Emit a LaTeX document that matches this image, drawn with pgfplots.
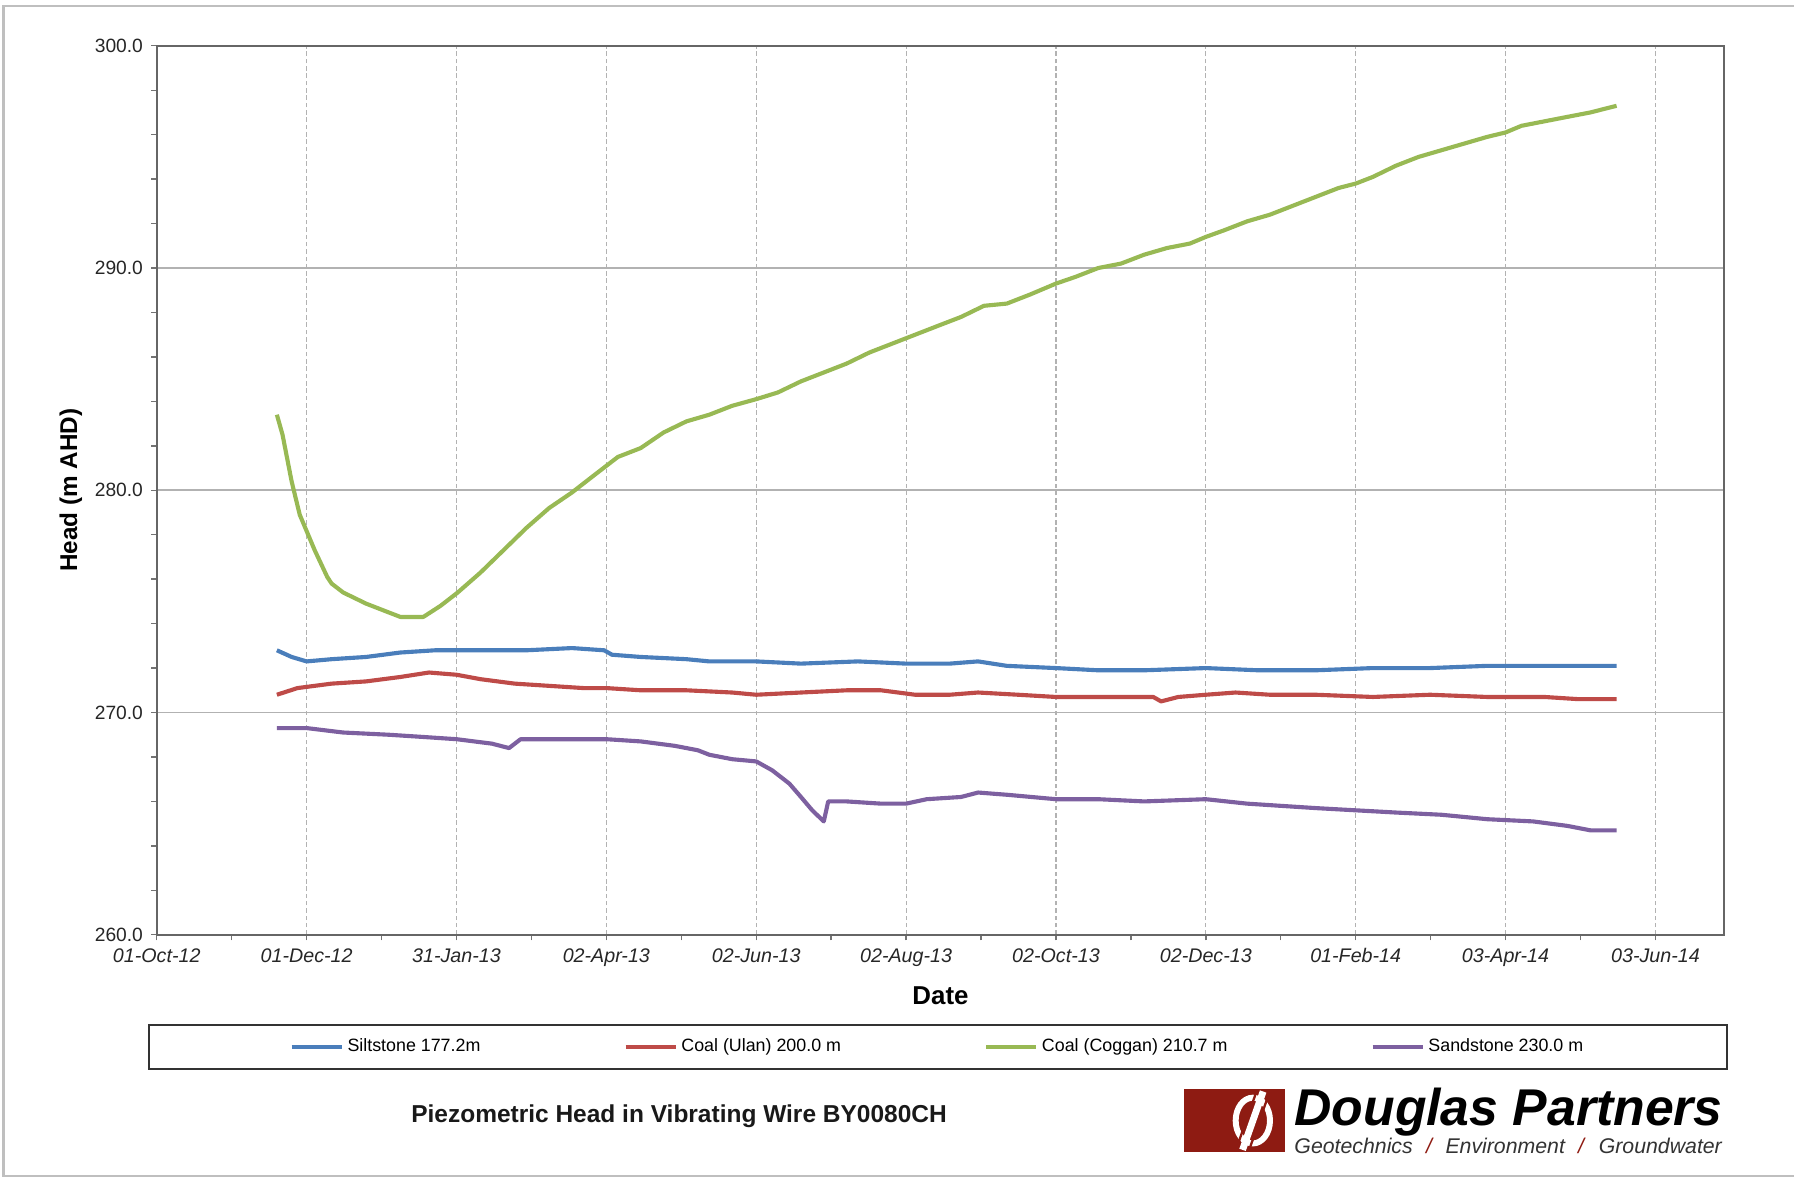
\documentclass[border=0pt]{standalone}
\usepackage{fontspec}
\setmainfont{Liberation Sans}
\usepackage{pgfplots}
\pgfplotsset{compat=1.18}
\definecolor{cBlue}{HTML}{4A7EBB}
\definecolor{cRed}{HTML}{BE4B48}
\definecolor{cGreen}{HTML}{98B954}
\definecolor{cPurple}{HTML}{7D60A0}
\definecolor{dpRed}{HTML}{8E1B12}
\begin{document}
\begin{tikzpicture}
\path[use as bounding box] (-68.5pt,-106.5pt) rectangle (715.5pt,408.5pt);
\draw[black!25, line width=1pt] (715.5pt,406pt) -- (-67pt,406pt) -- (-67pt,-105.5pt) -- (715.5pt,-105.5pt);
\begin{axis}[
  scale only axis, width=685pt, height=388.5pt,
  xmin=0, xmax=638, ymin=260, ymax=300,
  xtick={0,61,122,183,244,305,366,427,488,549,610},
  xticklabels={01-Oct-12,01-Dec-12,31-Jan-13,02-Apr-13,02-Jun-13,02-Aug-13,02-Oct-13,02-Dec-13,01-Feb-14,03-Apr-14,03-Jun-14},
  minor x tick num=1,
  ytick={260,270,280,290,300},
  yticklabels={260.0,270.0,280.0,290.0,300.0},
  minor y tick num=4,
  tick align=outside, tick pos=left,
  major tick length=2.5pt, minor tick length=2.5pt,
  every tick/.style={black!55, line width=0.6pt},
  axis line style={black!60, line width=0.9pt},
  xmajorgrids, ymajorgrids,
  x grid style={black!30, dash pattern=on 2pt off 1.2pt, line width=0.5pt},
  y grid style={black!30, line width=0.8pt},
  xticklabel style={font=\fontsize{8.6}{10}\selectfont\itshape, text=black!85},
  yticklabel style={font=\fontsize{8.4}{10}\selectfont, text=black!85},
  xlabel={Date}, ylabel={Head (m AHD)},
  every axis x label/.style={at={(axis description cs:0.5,0)}, yshift=-26.5pt, anchor=center, font=\fontsize{11.3}{13}\selectfont\bfseries},
  every axis y label/.style={at={(axis description cs:0,0.5)}, xshift=-37.5pt, rotate=90, anchor=center, font=\fontsize{10.6}{13}\selectfont\bfseries},
  legend columns=4,
  legend style={at={(axis description cs:0.4985,-0.1261)}, anchor=center, draw=black!80, line width=0.9pt,
    inner xsep=61.5pt, inner ysep=5pt,
    font=\fontsize{7.8}{9}\selectfont,
    nodes={inner xsep=1.5pt, inner ysep=1pt},
    /tikz/every even column/.append style={column sep=61pt}},
  legend image code/.code={\draw[#1, line width=1.8pt] (0pt,0pt) -- (22pt,0pt);},
  every axis plot/.append style={line width=1.8pt, line join=round},
]
\addplot[cBlue] coordinates {
(48.9,272.8) (54.9,272.5) (61.0,272.3) (71.2,272.4) (85.2,272.5) (99.2,272.7)
(113.2,272.8) (122.0,272.8) (136.4,272.8) (150.4,272.8) (169.0,272.9) (182.1,272.8)
(185.3,272.6) (197.0,272.5) (215.6,272.4) (224.9,272.3) (244.0,272.3) (262.2,272.2)
(285.4,272.3) (305.0,272.2) (322.7,272.2) (334.3,272.3) (346.0,272.1) (366.0,272.0)
(383.2,271.9) (401.9,271.9) (427.0,272.0) (448.4,271.9) (471.7,271.9) (495.0,272.0)
(518.3,272.0) (541.5,272.1) (564.8,272.1) (594.2,272.1)};
\addlegendentry{Siltstone 177.2m}
\addplot[cRed] coordinates {
(48.9,270.8) (57.3,271.1) (71.2,271.3) (85.2,271.4) (99.2,271.6) (110.8,271.8)
(122.0,271.7) (131.8,271.5) (145.7,271.3) (159.7,271.2) (173.7,271.1) (183.0,271.1)
(197.0,271.0) (215.6,271.0) (234.2,270.9) (244.0,270.8) (262.2,270.9) (280.8,271.0)
(294.8,271.0) (308.7,270.8) (322.7,270.8) (334.3,270.9) (350.6,270.8) (366.0,270.7)
(392.5,270.7) (405.6,270.7) (408.8,270.5) (415.8,270.7) (427.0,270.8) (439.1,270.9)
(453.1,270.8) (471.7,270.8) (495.0,270.7) (518.3,270.8) (541.5,270.7) (564.8,270.7)
(578.8,270.6) (594.2,270.6)};
\addlegendentry{Coal (Ulan) 200.0 m}
\addplot[cGreen] coordinates {
(48.9,283.4) (51.2,282.5) (54.9,280.4) (58.2,278.9) (64.3,277.3) (69.4,276.1)
(71.2,275.8) (75.9,275.4) (85.2,274.9) (94.5,274.5) (99.2,274.3) (108.5,274.3)
(115.5,274.8) (122.5,275.4) (131.8,276.3) (141.1,277.3) (150.4,278.3) (159.7,279.2)
(169.0,279.9) (178.3,280.7) (187.7,281.5) (197.0,281.9) (206.3,282.6) (215.6,283.1)
(224.9,283.4) (234.2,283.8) (244.0,284.1) (252.8,284.4) (262.2,284.9) (271.5,285.3)
(280.8,285.7) (290.1,286.2) (299.4,286.6) (308.7,287.0) (318.0,287.4) (327.4,287.8)
(336.7,288.3) (346.0,288.4) (355.3,288.8) (366.0,289.3) (373.9,289.6) (383.2,290.0)
(392.5,290.2) (401.9,290.6) (411.2,290.9) (420.5,291.1) (427.0,291.4) (434.5,291.7)
(443.8,292.1) (453.1,292.4) (462.4,292.8) (471.7,293.2) (481.0,293.6) (488.0,293.8)
(495.0,294.1) (504.3,294.6) (513.6,295.0) (522.9,295.3) (532.2,295.6) (541.5,295.9)
(549.0,296.1) (555.5,296.4) (564.8,296.6) (574.1,296.8) (583.5,297.0) (594.2,297.3)};
\addlegendentry{Coal (Coggan) 210.7 m}
\addplot[cPurple] coordinates {
(48.9,269.3) (61.0,269.3) (75.9,269.1) (94.5,269.0) (108.5,268.9) (122.0,268.8)
(136.4,268.6) (143.4,268.4) (148.1,268.8) (159.7,268.8) (173.7,268.8) (183.0,268.8)
(197.0,268.7) (210.9,268.5) (220.3,268.3) (224.9,268.1) (234.2,267.9) (244.0,267.8)
(250.5,267.4) (257.5,266.8) (262.2,266.2) (266.8,265.6) (271.5,265.1) (273.3,266.0)
(280.8,266.0) (294.8,265.9) (305.0,265.9) (313.4,266.1) (327.4,266.2) (334.3,266.4)
(346.0,266.3) (366.0,266.1) (383.2,266.1) (401.9,266.0) (427.0,266.1) (443.8,265.9)
(457.7,265.8) (471.7,265.7) (488.0,265.6) (504.3,265.5) (522.9,265.4) (541.5,265.2)
(560.2,265.1) (574.1,264.9) (583.5,264.7) (594.2,264.7)};
\addlegendentry{Sandstone 230.0 m}
\end{axis}
% title
\node[font=\fontsize{10.7}{13}\selectfont\bfseries, text=black!90] at (228.25pt,-79.5pt) {Piezometric Head in Vibrating Wire BY0080CH};
% logo
\fill[dpRed] (449pt,-67.5pt) rectangle (493pt,-95pt);
\begin{scope}
\clip (449pt,-67.5pt) rectangle (493pt,-95pt);
\draw[white, line width=2.6pt] (479pt,-81.2pt) ellipse (7.5pt and 10pt);
\draw[white, line width=3pt] (474.5pt,-94pt) -- (483.5pt,-68.5pt);
\draw[dpRed, line width=1pt] (471.6pt,-94pt) -- (480.6pt,-68.5pt);
\draw[dpRed, line width=1pt] (477.4pt,-94pt) -- (486.4pt,-68.5pt);
\end{scope}
\node[anchor=base west, inner sep=0pt, text depth=0pt, font=\fontsize{22.6}{26}\selectfont\bfseries\itshape] at (497pt,-83.5pt) {Douglas Partners};
\begin{scope}[every node/.style={anchor=base west, inner sep=0pt, text height=6.8pt, font=\fontsize{9.3}{11}\selectfont\itshape, text=black!80}]
\node at (497pt,-95.5pt) {Geotechnics};
\node[text=dpRed] at (554.5pt,-95.5pt) {/};
\node at (563pt,-95.5pt) {Environment};
\node[text=dpRed] at (621pt,-95.5pt) {/};
\node at (630pt,-95.5pt) {Groundwater};
\end{scope}
\end{tikzpicture}
\end{document}
